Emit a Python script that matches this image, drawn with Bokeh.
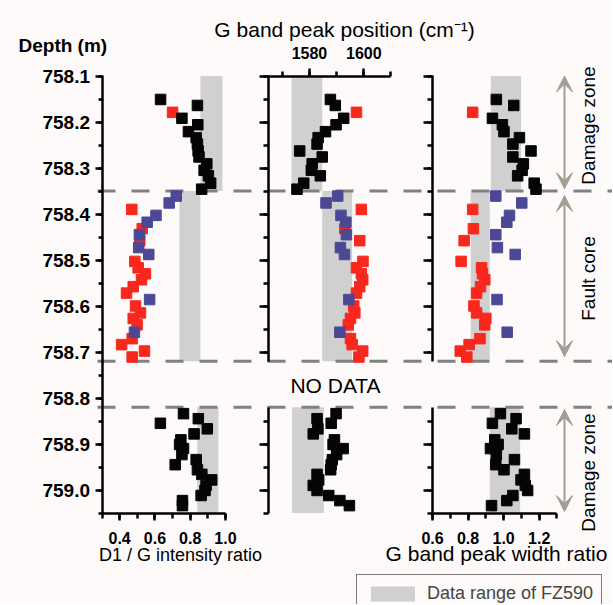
import numpy as np
from bokeh.plotting import figure
from bokeh.models import (Range1d, LinearAxis, SingleIntervalTicker, PrintfTickFormatter,
                          Label, Arrow, VeeHead, Legend, LegendItem)
from bokeh.embed import file_html
from bokeh.resources import INLINE

# ---------------- data ----------------
# zone boundaries (depth, m)
zone_bounds = [758.35, 758.72, 758.82]
zone_top = [758.10, 758.35, 758.82]
zone_bottom = [758.35, 758.72, 759.05]
zone_names = ["Damage zone", "Fault core", "Damage zone"]

# tick labels of the value axes
d1g_ticks = [0.4, 0.6, 0.8, 1.0]
gpos_ticks = [1580, 1600]
gwid_ticks = [0.6, 0.8, 1.0, 1.2]

# upper damage zone (index 2 is the red sample)
depth_upper = [758.151, 758.164, 758.179, 758.192, 758.206, 758.221, 758.234, 758.248,
               758.263, 758.276, 758.291, 758.305, 758.317, 758.333, 758.346]
color_upper = ["black", "black", "red"] + ["black"] * 12
d1g_upper = [0.632, 0.841, 0.700, 0.753, 0.843, 0.790, 0.834, 0.841,
             0.845, 0.850, 0.894, 0.879, 0.903, 0.916, 0.865]
gpos_upper = [1587.7, 1589.5, 1597.3, 1592.6, 1589.8, 1585.9, 1583.2, 1582.8,
              1576.4, 1584.7, 1581.0, 1580.7, 1584.0, 1577.9, 1575.4]
gwid_upper = [0.959, 1.057, 0.826, 0.937, 0.993, 1.002, 1.089, 1.052,
              1.154, 1.052, 1.111, 1.104, 1.079, 1.172, 1.182]

# fault core - red samples
depth_core_red = [758.390, 758.432, 758.458, 758.503, 758.517, 758.530, 758.543, 758.558, 758.572,
                  758.600, 758.615, 758.627, 758.641, 758.671, 758.684, 758.698, 758.711]
d1g_core_red = [0.469, 0.528, 0.514, 0.486, 0.505, 0.546, 0.524, 0.477, 0.439,
                0.490, 0.518, 0.477, 0.499, 0.471, 0.411, 0.541, 0.471]
gpos_core_red = [1599.1, 1593.0, 1598.5, 1599.7, 1597.3, 1599.1, 1599.6, 1598.5, 1597.3,
                 1596.3, 1596.7, 1595.1, 1594.3, 1595.1, 1595.7, 1599.6, 1598.2]
gwid_core_red = [0.826, 0.830, 0.778, 0.761, 0.876, 0.881, 0.894, 0.870, 0.848,
                 0.833, 0.848, 0.900, 0.894, 0.867, 0.806, 0.756, 0.793]

# fault core - blue samples
depth_core_blue = [758.361, 758.376, 758.403, 758.418, 758.445, 758.473, 758.488, 758.586, 758.657]
d1g_core_blue = [0.721, 0.681, 0.606, 0.556, 0.512, 0.508, 0.565, 0.570, 0.484]
gpos_core_blue = [1590.4, 1586.1, 1591.6, 1593.4, 1593.6, 1591.4, 1592.9, 1594.5, 1591.2]
gwid_core_blue = [0.956, 1.102, 1.033, 1.018, 0.956, 0.965, 1.065, 0.963, 1.020]

# lower damage zone
depth_lower = [758.834, 758.845, 758.855, 758.867, 758.878, 758.891, 758.901, 758.910, 758.923,
               758.934, 758.945, 758.956, 758.966, 758.978, 758.990, 759.001, 759.012, 759.023, 759.034]
d1g_lower = [0.762, 0.846, 0.631, 0.897, 0.822, 0.747, 0.740, 0.762, 0.753,
             0.834, 0.715, 0.841, 0.866, 0.922, 0.890, 0.884, 0.862, 0.756, 0.756]
gpos_lower = [1589.8, 1582.8, 1588.0, 1583.1, 1581.4, 1589.2, 1588.7, 1592.4, 1590.0,
              1588.4, 1588.0, 1587.8, 1582.8, 1583.4, 1581.4, 1582.8, 1587.1, 1591.2, 1594.7]
gwid_lower = [0.982, 1.070, 0.937, 1.046, 1.117, 0.950, 0.969, 0.926, 0.959,
              1.061, 0.956, 1.002, 1.117, 1.098, 1.122, 1.135, 1.052, 1.018, 0.932]

# data range of FZ590 (per zone: upper, core, lower)
d1g_band_left = [0.858, 0.739, 0.840]
d1g_band_right = [0.983, 0.858, 0.960]
gpos_band_left = [1573.4, 1584.7, 1573.6]
gpos_band_right = [1584.7, 1595.7, 1585.3]
gwid_band_left = [0.928, 0.815, 0.922]
gwid_band_right = [1.098, 0.922, 1.093]

# ---------------- layout / style ----------------
W, H = 612, 604
OX, OY = 0, 0
Y0, KY = 75.5, 460.0          # 758.1 m at page y=75.5, px per metre
BG = "#fdfaf9"
BAND = "#d0d0d0"
RED = "#f8281e"
BLUE = "#4b4896"
ARROW_C = "#a39e92"
FONT = "Liberation Sans"
COL = {"black": "#050505", "red": RED}

D_TOP = 758.1 + (OY - Y0) / KY
D_BOTTOM = 758.1 + (OY + H - Y0) / KY


def xr(v0, x0, k):
    s = v0 - (x0 - OX) / k
    return Range1d(s, s + W / k)


p = figure(width=W, height=H, x_range=Range1d(OX, OX + W), y_range=Range1d(D_BOTTOM, D_TOP),
           x_axis_location=None, y_axis_location=None, toolbar_location=None,
           output_backend="svg", min_border=0, outline_line_color=None,
           background_fill_color=BG, border_fill_color=BG)
p.grid.visible = False
p.extra_x_ranges = {"p1": xr(0.3, 101.5, 176.4), "p2": xr(1565, 268.2, 2.717),
                    "p3": xr(0.6, 432.0, 177.8)}
p.extra_y_ranges = {"py": Range1d(OY + H, OY)}

# bands
bands = {}
for name, l, r in [("p1", d1g_band_left, d1g_band_right), ("p2", gpos_band_left, gpos_band_right),
                   ("p3", gwid_band_left, gwid_band_right)]:
    bands[name] = p.quad(left=l, right=r, top=zone_top, bottom=zone_bottom, x_range_name=name,
                         fill_color=BAND, line_color=None)

# dashed zone boundaries
n = len(zone_bounds)
p.segment(x0=[97] * n, x1=[OX + W] * n, y0=zone_bounds, y1=zone_bounds,
          line_color="#808080", line_width=3, line_dash="18 16")

# points
MS = 10.5
for name, up, cr, cb, lo in [("p1", d1g_upper, d1g_core_red, d1g_core_blue, d1g_lower),
                             ("p2", gpos_upper, gpos_core_red, gpos_core_blue, gpos_lower),
                             ("p3", gwid_upper, gwid_core_red, gwid_core_blue, gwid_lower)]:
    cu = [COL[c] for c in color_upper]
    p.scatter(up, depth_upper, x_range_name=name, marker="square", size=MS, fill_color=cu, line_color=cu)
    p.scatter(cr, depth_core_red, x_range_name=name, marker="square", size=MS, fill_color=RED, line_color=RED)
    p.scatter(cb, depth_core_blue, x_range_name=name, marker="square", size=MS, fill_color=BLUE, line_color=BLUE)
    p.scatter(lo, depth_lower, x_range_name=name, marker="square", size=MS, fill_color=COL["black"],
              line_color=COL["black"])


# axes
def make_axis(xname, fixed, bounds, interval, fmt, major_out, minor_out, size, show=True, standoff=4):
    ax = LinearAxis(x_range_name=xname, fixed_location=fixed, bounds=bounds,
                    ticker=SingleIntervalTicker(interval=interval, num_minor_ticks=2),
                    formatter=PrintfTickFormatter(format=fmt))
    ax.axis_line_width = 2.5
    ax.axis_line_color = "black"
    ax.major_tick_line_width = 2.5
    ax.minor_tick_line_width = 2.5
    ax.major_tick_in = 0
    ax.minor_tick_in = 0
    ax.major_tick_out = major_out
    ax.minor_tick_out = minor_out
    ax.major_label_text_font = FONT
    ax.major_label_text_font_style = "bold"
    ax.major_label_text_font_size = size
    ax.major_label_text_color = "black" if show else None
    ax.major_label_standoff = standoff
    return ax


# depth axis (panel 1)
p.add_layout(make_axis("p1", 0.3, (758.0999, 759.0501), 0.1, "%.1f", 7, 4, "19px", True, 5), "left")
# panel 2 / 3 vertical axes (upper and lower segments)
for name, left in [("p2", 1565), ("p3", 0.6)]:
    p.add_layout(make_axis(name, left, (758.0999, 758.72), 0.1, "%.1f", 9, 5, "1px", False), "left")
    p.add_layout(make_axis(name, left, (758.82, 759.0501), 0.1, "%.1f", 9, 5, "1px", False), "left")
# bottom axes (tick labels placed below as text at the tick values)
p.add_layout(make_axis("p1", 759.05, (0.2999, 1.0001), 0.2, "%.1f", 7, 5, "16px", False, 5), "below")
p.add_layout(make_axis("p3", 759.05, (0.5999, 1.3001), 0.2, "%.1f", 7, 5, "16px", False, 5), "below")
# top axis panel 2
p.add_layout(make_axis("p2", 758.1, (1564.99, 1610.01), 20, "%d", 8, 5, "16px", False, 5), "above")


def tick_text(xname, values, fmt, ypix):
    for v in values:
        p.add_layout(Label(x=v, x_range_name=xname, y=ypix, y_range_name="py", text=fmt % v,
                           text_align="center", text_baseline="middle", text_font=FONT,
                           text_font_size="16px", text_font_style="bold", text_color="black"))


tick_text("p1", d1g_ticks, "%.1f", 537)
tick_text("p3", gwid_ticks, "%.1f", 537)
tick_text("p2", gpos_ticks, "%d", 52)

# zone arrows and labels
arrow_spans = [(758.10, 758.345), (758.36, 758.71), (758.825, 759.047)]
label_y = [125, 278, 472]
for (a, b), txt, ly in zip(arrow_spans, zone_names, label_y):
    p.add_layout(Arrow(x_start=564, y_start=a, x_end=564, y_end=b,
                       line_color=ARROW_C, line_width=2,
                       start=VeeHead(size=16, fill_color=ARROW_C, line_color=ARROW_C, line_width=1),
                       end=VeeHead(size=16, fill_color=ARROW_C, line_color=ARROW_C, line_width=1)))
    p.add_layout(Label(x=588, y=ly, y_range_name="py", text=txt, angle=np.pi / 2,
                       text_align="center", text_baseline="middle",
                       text_font=FONT, text_font_size="19px", text_color="black"))


def lab(x, y, t, size, bold=False, align="center"):
    p.add_layout(Label(x=x, y=y, y_range_name="py", text=t, text_align=align, text_baseline="middle",
                       text_font=FONT, text_font_size=size, text_color="black",
                       text_font_style="bold" if bold else "normal"))


lab(18, 45, "Depth (m)", "19px", True, "left")
lab(344, 29, "G band peak position (cm\u207b\u00b9)", "21px")
lab(180, 554, "D1 / G intensity ratio", "18px")
lab(496, 553, "G band peak width ratio", "21px")
lab(335, 385, "NO DATA", "21px")

legend = Legend(items=[LegendItem(label="Data range of FZ590", renderers=[bands["p1"]])],
                location=(356, -9), orientation="vertical",
                border_line_color="black", border_line_width=1.5,
                background_fill_color=BG, background_fill_alpha=1.0,
                label_text_font=FONT, label_text_font_size="18px",
                glyph_width=55, glyph_height=19, label_height=19,
                padding=8, margin=0, label_standoff=7, spacing=0)
p.add_layout(legend)

open("out.html", "w").write(file_html(p, INLINE))
